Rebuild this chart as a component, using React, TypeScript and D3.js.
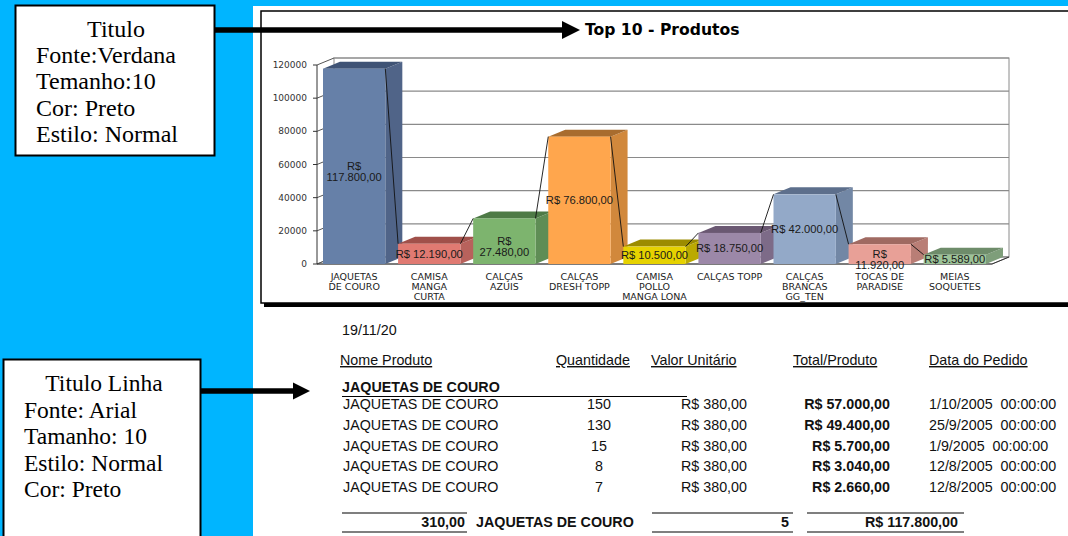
import * as d3 from 'd3';

// chart data
const categories = [
  ['JAQUETAS', 'DE COURO'],
  ['CAMISA', 'MANGA', 'CURTA'],
  ['CALÇAS', 'AZUIS'],
  ['CALÇAS', 'DRESH TOPP'],
  ['CAMISA', 'POLLO', 'MANGA LONA'],
  ['CALÇAS TOPP'],
  ['CALÇAS', 'BRANCAS', 'GG_TEN'],
  ['TOCAS DE', 'PARADISE'],
  ['MEIAS', 'SOQUETES'],
];
const totals = [117800, 12190, 27480, 76800, 10500, 18750, 42000, 11920, 5589];
const wrapValue = [true, false, true, false, false, false, false, true, false];
const yTicks = [0, 20000, 40000, 60000, 80000, 100000, 120000];

// face colours: front, side, top
const barColors = [
  ['#6680a8', '#506488', '#3f5375'],
  ['#e07a72', '#b8625c', '#a0504a'],
  ['#7db46e', '#5f8d55', '#4e7a46'],
  ['#ffa64d', '#d1883c', '#a86c2e'],
  ['#e6d200', '#bbaa00', '#9c8c00'],
  ['#9c88a8', '#7d6b88', '#6a5872'],
  ['#93a9c8', '#7287a5', '#5d6f8c'],
  ['#e8a097', '#b97e76', '#a06a62'],
  ['#9dc398', '#7e9e7a', '#6e8c6a'],
];

// report table data
const headers = ['Nome Produto', 'Quantidade', 'Valor Unitário', 'Total/Produto', 'Data do Pedido'];
const rowNames = ['JAQUETAS DE COURO', 'JAQUETAS DE COURO', 'JAQUETAS DE COURO', 'JAQUETAS DE COURO', 'JAQUETAS DE COURO'];
const rowQty = [150, 130, 15, 8, 7];
const rowUnit = [380, 380, 380, 380, 380];
const rowTotal = [57000, 49400, 5700, 3040, 2660];
const rowDate = ['1/10/2005  00:00:00', '25/9/2005  00:00:00', '1/9/2005  00:00:00', '12/8/2005  00:00:00', '12/8/2005  00:00:00'];

const note1 = ['Titulo', 'Fonte:Verdana', 'Temanho:10', 'Cor: Preto', 'Estilo: Normal'];
const note2 = ['Titulo Linha', 'Fonte: Arial', 'Tamanho: 10', 'Estilo: Normal', 'Cor: Preto'];

const br = d3.formatLocale({ decimal: ',', thousands: '.', grouping: [3], currency: ['R$ ', ''] });
const money = br.format('$,.2f');
const num = br.format(',.2f');

const BLUE = '#00b5ff';
const DX = 17;
const DY = -7;

export default function App() {
  const x = d3.scaleBand<number>()
    .domain(d3.range(categories.length))
    .range([317, 992])
    .paddingInner(0.17)
    .paddingOuter(0.08);
  const y = d3.scaleLinear().domain([0, 120000]).range([264, 65]);
  const w = x.bandwidth();
  const y0 = y(0);
  const wallL = 317 + DX;
  const wallR = 1009;

  const serif = 'Liberation Serif, Times New Roman, serif';
  const arial = 'Liberation Sans, Arial, sans-serif';
  const verdana = 'DejaVu Sans, Verdana, sans-serif';

  return (
    <svg width={1068} height={536} style={{ position: 'fixed', left: 0, top: 0, background: '#fff' }}>
      {/* backdrop */}
      <rect x={0} y={0} width={1068} height={6} fill={BLUE} />
      <rect x={0} y={0} width={253} height={536} fill={BLUE} />

      {/* chart frame */}
      <rect x={264} y={14} width={820} height={293} fill="#000" />
      <rect x={261} y={11} width={820} height={292} fill="#fff" stroke="#000" strokeWidth={1.5} />

      <text x={585} y={35} fontFamily={verdana} fontWeight="bold" fontSize={15.6} fill="#000">Top 10 - Produtos</text>

      {/* walls and floor */}
      <rect x={wallL} y={y(120000) + DY} width={wallR - wallL} height={y0 - y(120000)} fill="#fff" stroke="#8a8a8a" />
      <polygon points={`317,${y0} ${wallL},${y0 + DY} ${wallR},${y0 + DY} ${wallR - DX},${y0}`} fill="#fff" stroke="#8a8a8a" />
      {yTicks.map((t) => (
        <g key={t}>
          <line x1={wallL} x2={wallR} y1={y(t) + DY} y2={y(t) + DY} stroke="#8a8a8a" strokeWidth={1.2} />
          <line x1={317} x2={wallL} y1={y(t)} y2={y(t) + DY} stroke="#555" />
          <line x1={313} x2={317} y1={y(t)} y2={y(t)} stroke="#333" />
          <text x={307} y={y(t)} dy="0.35em" textAnchor="end" fontFamily={verdana} fontSize={9} fill="#333">{t}</text>
        </g>
      ))}
      <line x1={317} x2={317} y1={y0} y2={y(120000)} stroke="#333" />
      <line x1={317} x2={wallR - DX} y1={y0} y2={y0} stroke="#333" />
      <line x1={wallR - DX} x2={wallR} y1={y0} y2={y0 + DY} stroke="#333" />

      {/* bars */}
      {totals.map((v, i) => {
        const bx = x(i)!;
        const top = y(v);
        const [front, side, topc] = barColors[i];
        return (
          <g key={i}>
            <polygon points={`${bx + w},${top} ${bx + w + DX},${top + DY} ${bx + w + DX},${y0 + DY} ${bx + w},${y0}`} fill={side} />
            <polygon points={`${bx},${top} ${bx + DX},${top + DY} ${bx + w + DX},${top + DY} ${bx + w},${top}`} fill={topc} />
            <rect x={bx} y={top} width={w} height={y0 - top} fill={front} />
          </g>
        );
      })}

      {/* connector line between bar tops */}
      {totals.slice(1).map((v, i) => (
        <line key={i} x1={x(i)! + w} y1={y(totals[i])} x2={x(i + 1)!} y2={y(v)} stroke="#111" strokeWidth={0.9} />
      ))}

      {/* value labels */}
      {totals.map((v, i) => {
        const cx = x(i)! + w / 2;
        const mid = (y(v) + y0) / 2;
        const lines = wrapValue[i] ? ['R$', num(v)] : [money(v)];
        return lines.map((s, k) => (
          <text key={`${i}-${k}`} x={cx} y={mid + k * 11} dy="0.35em" textAnchor="middle" fontFamily={arial} fontSize={11.2} fill="#1a1a1a">{s}</text>
        ));
      })}

      {/* category labels */}
      {categories.map((lines, i) =>
        lines.map((s, k) => (
          <text key={`${i}-${k}`} x={x(i)! + w / 2} y={277 + k * 9.7} dy="0.35em" textAnchor="middle" fontFamily={verdana} fontSize={9.5} fill="#222">{s}</text>
        ))
      )}

      {/* report table */}
      <g fontFamily={arial} fontSize={14.3} fill="#111">
        <text x={342} y={335}>19/11/20</text>
        <text x={340} y={365} textDecoration="underline">{headers[0]}</text>
        <text x={556} y={365} textDecoration="underline">{headers[1]}</text>
        <text x={651} y={365} textDecoration="underline">{headers[2]}</text>
        <text x={793} y={365} textDecoration="underline">{headers[3]}</text>
        <text x={929} y={365} textDecoration="underline">{headers[4]}</text>

        <text x={342} y={392} fontWeight="bold">JAQUETAS DE COURO</text>
        <line x1={342} x2={687} y1={396.5} y2={396.5} stroke="#000" strokeWidth={1.2} />

        {rowNames.map((n, i) => {
          const by = 409 + i * 20.75;
          return (
            <g key={i}>
              <text x={343} y={by}>{n}</text>
              <text x={599} y={by} textAnchor="middle">{rowQty[i]}</text>
              <text x={747} y={by} textAnchor="end">{money(rowUnit[i])}</text>
              <text x={890} y={by} textAnchor="end" fontWeight="bold">{money(rowTotal[i])}</text>
              <text x={929} y={by} style={{ whiteSpace: 'pre' }}>{rowDate[i]}</text>
            </g>
          );
        })}

        {[513, 532].map((ly) => (
          <g key={ly} stroke="#000" strokeWidth={1.2}>
            <line x1={342} x2={467} y1={ly} y2={ly} />
            <line x1={652} x2={793} y1={ly} y2={ly} />
            <line x1={807} x2={964} y1={ly} y2={ly} />
          </g>
        ))}
        <text x={465} y={527} textAnchor="end" fontWeight="bold">{num(d3.sum(rowQty))}</text>
        <text x={476} y={527} fontWeight="bold">JAQUETAS DE COURO</text>
        <text x={789} y={527} textAnchor="end" fontWeight="bold">{rowQty.length}</text>
        <text x={958} y={527} textAnchor="end" fontWeight="bold">{money(d3.sum(rowTotal))}</text>
      </g>

      {/* annotation boxes and arrows */}
      <line x1={214} x2={564} y1={30} y2={30} stroke="#000" strokeWidth={5.5} />
      <polygon points="580,30 562,21 562,39" fill="#000" />
      <rect x={15.5} y={5.5} width={199} height={150} fill="#fff" stroke="#000" strokeWidth={2} />
      <g fontFamily={serif} fontSize={24} fill="#000">
        {note1.map((s, i) => (
          <text key={i} x={i === 0 ? 116 : 36} y={37 + i * 26.2} textAnchor={i === 0 ? 'middle' : 'start'}>{s}</text>
        ))}
      </g>

      <line x1={200} x2={295} y1={391} y2={391} stroke="#000" strokeWidth={5.5} />
      <polygon points="310,391 293,382.5 293,399.5" fill="#000" />
      <rect x={3.5} y={359.5} width={197} height={190} fill="#fff" stroke="#000" strokeWidth={2} />
      <g fontFamily={serif} fontSize={23.5} fill="#000">
        {note2.map((s, i) => (
          <text key={i} x={i === 0 ? 104 : 24} y={391 + i * 26.5} textAnchor={i === 0 ? 'middle' : 'start'}>{s}</text>
        ))}
      </g>
    </svg>
  );
}
